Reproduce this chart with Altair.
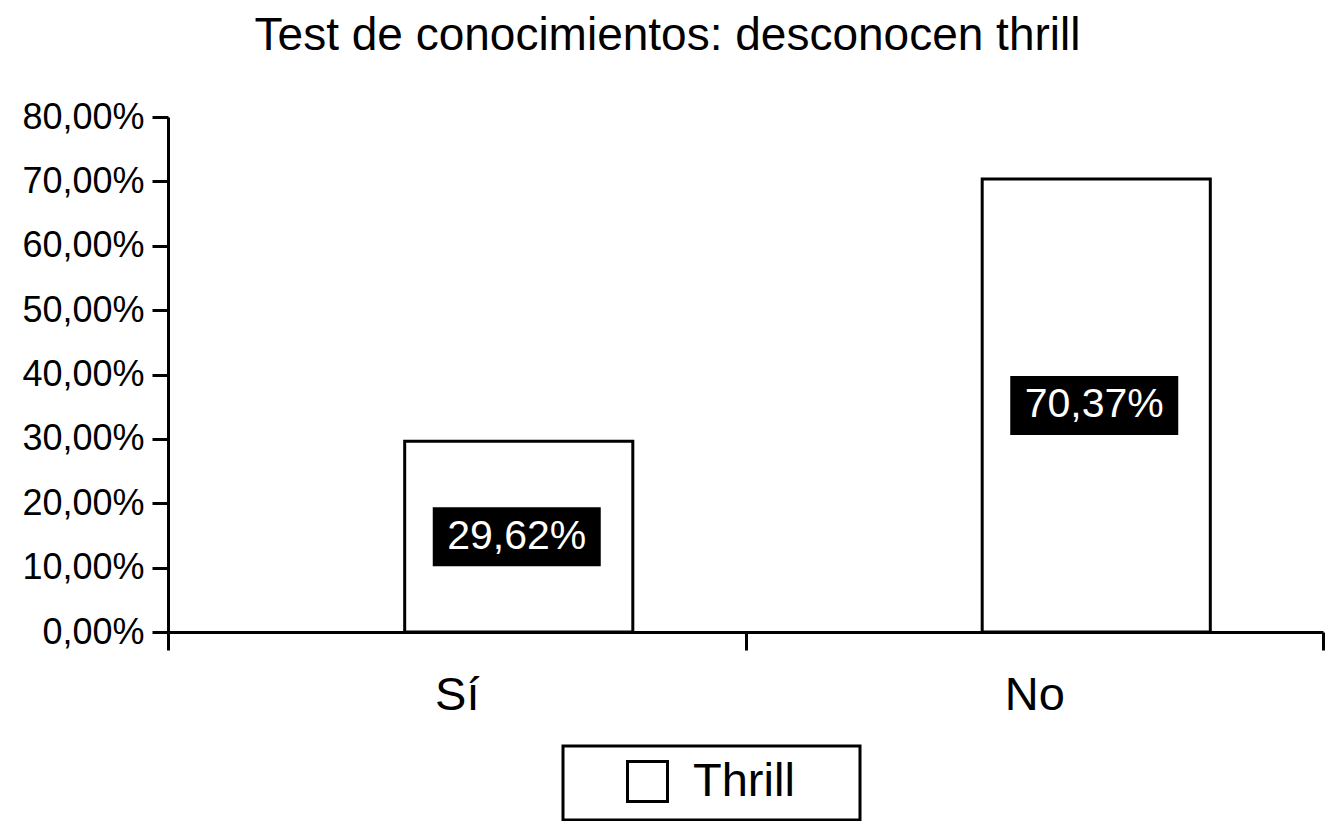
import altair as alt
import pandas as pd

categories = ["Sí", "No"]
values = [29.62, 70.37]
series_name = "Thrill"
title_text = "Test de conocimientos: desconocen thrill"
y_ticks = [0, 10, 20, 30, 40, 50, 60, 70, 80]

df = pd.DataFrame({
    "cat": categories,
    "val": values,
    "serie": [series_name] * len(categories),
})

FONT = "Liberation Sans"
pct_expr = "replace(format({v}, '.2f'), '.', ',') + '%'"

x = alt.X(
    "cat:N",
    sort=categories,
    scale=alt.Scale(paddingInner=0, paddingOuter=0),
    axis=alt.Axis(
        title=None, labelAngle=0, tickBand="extent", tickSize=18, tickWidth=3,
        domainWidth=3, labelFontSize=47, labelPadding=22, labelColor="black",
        tickColor="black", domainColor="black", labelFont=FONT, grid=False,
    ),
)
y_axis = alt.Axis(
    title=None, values=y_ticks, tickSize=16, tickWidth=3, domainWidth=3,
    labelFontSize=36, labelPadding=8, labelColor="black", tickColor="black",
    domainColor="black", labelFont=FONT, grid=False,
    labelExpr=pct_expr.format(v="datum.value"),
)

base = alt.Chart(df).transform_calculate(
    half="datum.val / 2",
    lbl=pct_expr.format(v="datum.val"),
)

bars = base.mark_bar(
    stroke="black", strokeWidth=3, width=alt.RelativeBandSize(0.395), xOffset=62
).encode(
    x=x,
    y=alt.Y("val:Q", scale=alt.Scale(domain=[0, 80]), axis=y_axis),
    fill=alt.Fill(
        "serie:N",
        scale=alt.Scale(range=["white"]),
        legend=alt.Legend(
            title=None, orient="none", legendX=395, legendY=629,
            symbolType="square", symbolSize=1600, symbolStrokeWidth=3,
            symbolStrokeColor="black", symbolFillColor="white",
            symbolOffset=49, labelOffset=22,
            labelFontSize=47, labelFont=FONT, labelColor="black",
            labelExpr="datum.label + '\u00a0\u00a0\u00a0\u00a0\u200b'",
        ),
    ),
)

boxes = base.mark_point(
    shape="M-1,-0.351H1V0.351H-1Z", size=28224, filled=True, fill="black",
    opacity=1, strokeWidth=0, xOffset=60,
).encode(
    x=alt.X("cat:N", sort=categories),
    y=alt.Y("half:Q"),
)

texts = base.mark_text(
    color="white", fontSize=41, font=FONT, xOffset=60, baseline="middle", align="center"
).encode(
    x=alt.X("cat:N", sort=categories),
    y=alt.Y("half:Q"),
    text="lbl:N",
)

chart = alt.layer(bars, boxes, texts).properties(
    width=1155,
    height=515,
    autosize=alt.AutoSizeParams(type="none"),
    padding={"left": 160, "top": 109, "right": 2, "bottom": 189},
    title=alt.TitleParams(
        title_text, fontSize=46, font=FONT, fontWeight="normal", color="black",
        anchor="middle", dx=-78, offset=-7, baseline="bottom",
    ),
).configure_view(stroke=None).configure_legend(
    strokeColor="black", strokeWidth=3, fillColor="white", padding=12
)

chart.save("out.html", embed_options={"renderer": "svg", "actions": False})
